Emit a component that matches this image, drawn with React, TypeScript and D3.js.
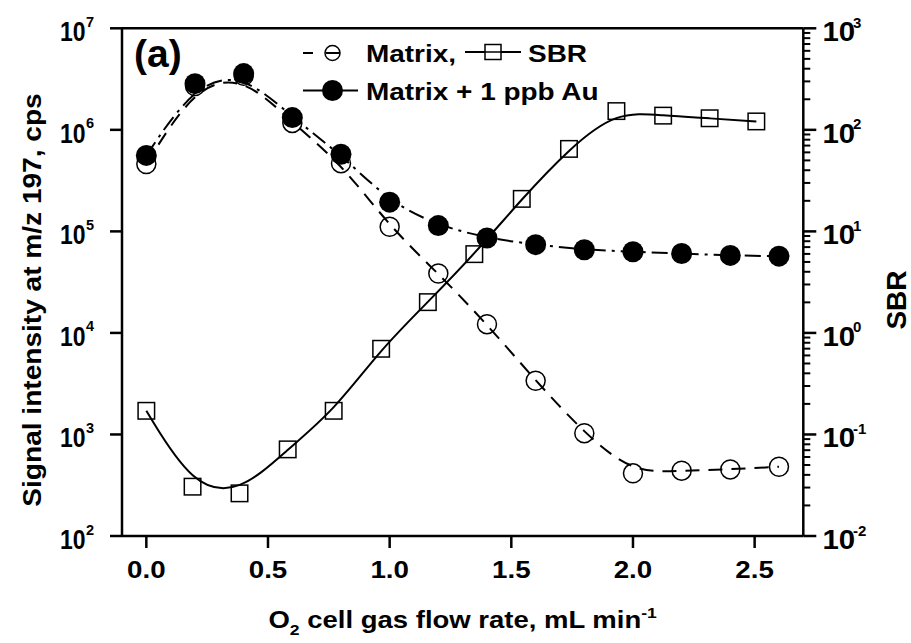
import React from "react";
import * as d3 from "d3";

const xTickValues = [0, 0.5, 1.0, 1.5, 2.0, 2.5];
const xTickLabels = ["0.0", "0.5", "1.0", "1.5", "2.0", "2.5"];
const leftExponents = [2, 3, 4, 5, 6, 7];
const rightExponents = [-2, -1, 0, 1, 2, 3];

const flowX = [0, 0.2, 0.4, 0.6, 0.8, 1.0, 1.2, 1.4, 1.6, 1.8, 2.0, 2.2, 2.4, 2.6];
const matrixY = [4.6e5, 2.7e6, 3.4e6, 1.17e6, 4.7e5, 1.11e5, 3.85e4, 1.22e4, 3.38e3, 1.03e3, 414, 440, 453, 481];
const matrixAuY = [5.6e5, 2.85e6, 3.58e6, 1.32e6, 5.75e5, 1.94e5, 1.14e5, 8.6e4, 7.4e4, 6.6e4, 6.3e4, 6.05e4, 5.8e4, 5.7e4];
const sbrX = [0, 0.19, 0.383, 0.581, 0.77, 0.965, 1.157, 1.348, 1.543, 1.737, 1.932, 2.124, 2.315, 2.507];
const sbrY = [0.171, 0.0306, 0.0263, 0.0713, 0.171, 0.698, 2.01, 5.97, 20.9, 64.9, 153, 138, 130, 121];

const W = 911, H = 643;
const L = 122, R = 803.3, T0 = 28.3, B = 536;
const FONT = "'Liberation Sans', Arial, Helvetica, sans-serif";

function Txt({ x, y, size, sx = 1, anchor = "start", rot = 0, children }: any) {
  return (
    <text
      transform={`translate(${x},${y}) rotate(${rot}) scale(${sx},1)`}
      fontSize={size}
      fontWeight="bold"
      fontFamily={FONT}
      textAnchor={anchor}
      fill="#000"
    >
      {children}
    </text>
  );
}

export default function App() {
  const x = d3.scaleLinear().domain([-0.1, 2.7]).range([L, R]);
  const yL = d3.scaleLog().domain([1e2, 1e7]).range([B, T0]);
  const yR = d3.scaleLog().domain([1e-2, 1e3]).range([B, T0]);

  const matrixPts = flowX.map((v, i) => [x(v), yL(matrixY[i])] as [number, number]);
  const auPts = flowX.map((v, i) => [x(v), yL(matrixAuY[i])] as [number, number]);
  const sbrPts = sbrX.map((v, i) => [x(v), yR(sbrY[i])] as [number, number]);

  const line = d3.line().curve(d3.curveBasis);

  const rightMinor: number[] = [];
  for (let e = -2; e < 3; e++) for (let m = 2; m <= 9; m++) rightMinor.push(m * Math.pow(10, e));

  const sq = 16.5;

  return (
    <svg width={W} height={H} style={{ position: "absolute", left: 0, top: 0, background: "#fff" }}>
      <rect x={0} y={0} width={W} height={H} fill="#fff" />
      {/* lines */}
      <path d={line(matrixPts) || ""} fill="none" stroke="#000" strokeWidth={2} strokeDasharray="14,9" />
      <path d={line(auPts) || ""} fill="none" stroke="#000" strokeWidth={2} strokeDasharray="16,6,3,6" />
      <path d={line(sbrPts) || ""} fill="none" stroke="#000" strokeWidth={2} />

      {/* markers */}
      {matrixPts.map((p, i) => (
        <circle key={"m" + i} cx={p[0]} cy={p[1]} r={9.5} fill="none" stroke="#000" strokeWidth={1.5} />
      ))}
      {sbrPts.map((p, i) => (
        <rect key={"s" + i} x={p[0] - sq / 2} y={p[1] - sq / 2} width={sq} height={sq} fill="none" stroke="#000" strokeWidth={1.5} />
      ))}
      {auPts.map((p, i) => (
        <circle key={"a" + i} cx={p[0]} cy={p[1]} r={10.5} fill="#000" />
      ))}

      {/* frame */}
      <g stroke="#000" strokeWidth={2.5} fill="none">
        <line x1={L} y1={T0} x2={R} y2={T0} />
        <line x1={L} y1={B} x2={R} y2={B} />
        <line x1={L} y1={T0} x2={L} y2={B} />
        <line x1={R} y1={T0} x2={R} y2={B} />
      </g>

      {/* bottom ticks */}
      {xTickValues.map((v, i) => (
        <g key={"xt" + i}>
          <line x1={x(v)} x2={x(v)} y1={B} y2={B + 12} stroke="#000" strokeWidth={2.5} />
          <Txt x={x(v)} y={578} size={23.3} sx={1.19} anchor="middle">{xTickLabels[i]}</Txt>
        </g>
      ))}

      {/* left ticks */}
      {leftExponents.map((e) => {
        const yy = yL(Math.pow(10, e));
        return (
          <g key={"yl" + e}>
            <line x1={L - 12} x2={L} y1={yy} y2={yy} stroke="#000" strokeWidth={2.5} />
            <Txt x={85.5} y={yy + 12.7} size={28} sx={0.82} anchor="end">10</Txt>
            <Txt x={86} y={yy - 1.5} size={14.5}>{String(e)}</Txt>
          </g>
        );
      })}

      {/* right ticks */}
      {rightMinor.map((v, i) => (
        <line key={"rm" + i} x1={R} x2={R + 7} y1={yR(v)} y2={yR(v)} stroke="#000" strokeWidth={2} />
      ))}
      {rightExponents.map((e) => {
        const yy = yR(Math.pow(10, e));
        return (
          <g key={"yr" + e}>
            <line x1={R} x2={R + 13} y1={yy} y2={yy} stroke="#000" strokeWidth={2.5} />
            <Txt x={822.5} y={yy + 13} size={28} sx={1.05}>10</Txt>
            <Txt x={853} y={yy - 0.5} size={15}>{String(e)}</Txt>
          </g>
        );
      })}

      {/* axis titles */}
      <Txt x={(L + R) / 2} y={628} size={23.5} sx={1.17} anchor="middle">
        O<tspan fontSize={15} dy={7}>2</tspan>
        <tspan dy={-7}> cell gas flow rate, mL min</tspan>
        <tspan fontSize={15} dy={-10}>-1</tspan>
      </Txt>
      <Txt x={41} y={300} size={26} sx={1.08} anchor="middle" rot={-90}>
        Signal intensity at m/z 197, cps
      </Txt>
      <Txt x={906} y={300} size={28} anchor="middle" rot={-90}>
        SBR
      </Txt>

      {/* panel label */}
      <Txt x={134} y={67} size={39}>(a)</Txt>

      {/* legend */}
      <g stroke="#000" strokeWidth={2}>
        <line x1={303} x2={313} y1={53} y2={53} />
        <line x1={326} x2={340} y1={53} y2={53} />
        <line x1={303} x2={358} y1={90.5} y2={90.5} />
        <line x1={465} x2={521} y1={52} y2={52} />
      </g>
      <circle cx={332.5} cy={53} r={7.5} fill="none" stroke="#000" strokeWidth={1.5} />
      <circle cx={332.5} cy={90.5} r={10.5} fill="#000" />
      <rect x={493 - 8} y={52 - 7.5} width={16} height={15} fill="#fff" stroke="#000" strokeWidth={1.5} />
      <line x1={485} x2={501} y1={52} y2={52} stroke="#000" strokeWidth={1.5} />
      <Txt x={366} y={62} size={23.3} sx={1.2}>Matrix,</Txt>
      <Txt x={528} y={62} size={23.3} sx={1.2}>SBR</Txt>
      <Txt x={366} y={100} size={23.3} sx={1.2}>Matrix + 1 ppb Au</Txt>
    </svg>
  );
}
